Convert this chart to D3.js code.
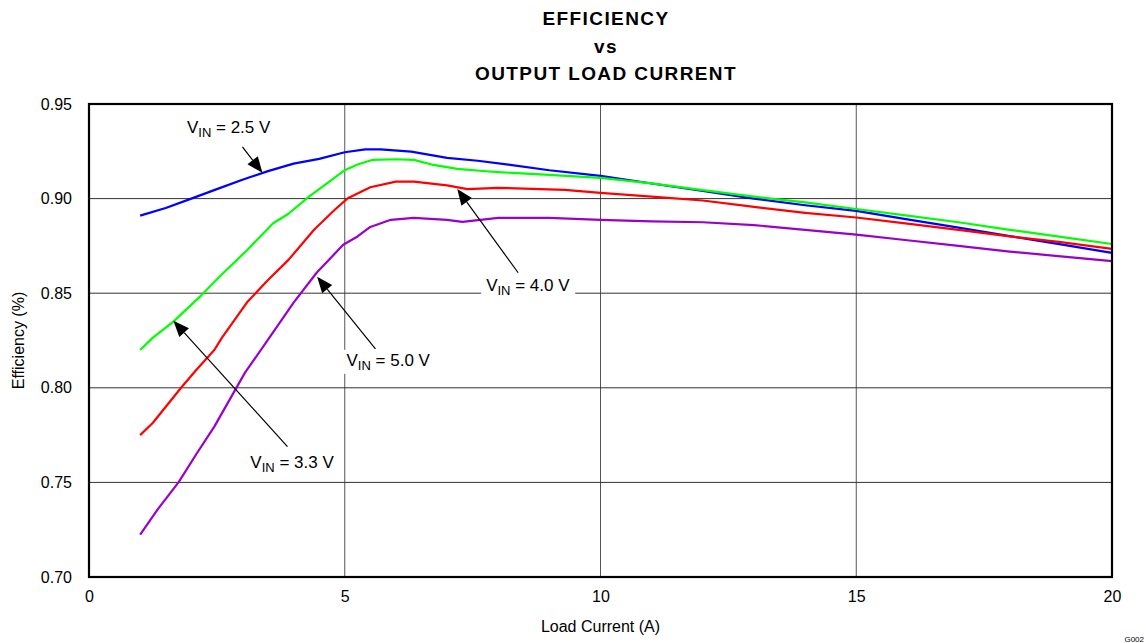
<!DOCTYPE html>
<html>
<head>
<meta charset="utf-8">
<script src="https://cdn.jsdelivr.net/npm/d3@7"></script>
<style>
  body { margin: 0; background: #fff; }
  text { font-family: "Liberation Sans", Arial, sans-serif; fill: #000; }
</style>
</head>
<body>
<div id="chart"></div>
<script>
// values
const xTicks = [0, 5, 10, 15, 20];
const yTicks = [0.70, 0.75, 0.80, 0.85, 0.90, 0.95];

const vin25x = [1, 1.5, 2, 2.5, 3, 3.5, 4, 4.5, 5, 5.4, 5.7, 6.3, 7, 7.6, 8.2, 9, 10, 11, 12, 13, 14, 15, 16, 17, 18, 19, 20];
const vin25y = [0.891, 0.895, 0.900, 0.905, 0.910, 0.9145, 0.9185, 0.921, 0.9245, 0.926, 0.926, 0.9248, 0.9215, 0.920, 0.918, 0.915, 0.912, 0.908, 0.904, 0.900, 0.8965, 0.8935, 0.889, 0.8847, 0.8802, 0.8758, 0.8713];

const vin33x = [1, 1.25, 1.65, 2.2, 2.6, 3.1, 3.6, 3.9, 4.3, 4.6, 5, 5.25, 5.55, 6, 6.35, 6.7, 7.2, 7.7, 8, 9, 10, 11, 12, 13, 14, 15, 16, 17, 18, 19, 20];
const vin33y = [0.820, 0.8265, 0.835, 0.849, 0.860, 0.873, 0.887, 0.892, 0.901, 0.907, 0.915, 0.918, 0.9205, 0.9208, 0.9205, 0.918, 0.9157, 0.9146, 0.914, 0.9125, 0.911, 0.908, 0.9045, 0.901, 0.898, 0.8945, 0.891, 0.8875, 0.8835, 0.8798, 0.876];

const vin40x = [1, 1.25, 1.8, 2.1, 2.45, 2.6, 3.1, 3.5, 3.9, 4.4, 4.8, 5.05, 5.5, 6, 6.35, 7, 7.4, 8, 9.3, 10, 11, 12, 13, 14, 15, 16, 17, 18, 19, 20];
const vin40y = [0.775, 0.7815, 0.800, 0.8095, 0.820, 0.8265, 0.8455, 0.857, 0.8676, 0.8835, 0.894, 0.900, 0.906, 0.909, 0.909, 0.907, 0.905, 0.9057, 0.9046, 0.903, 0.901, 0.899, 0.8956, 0.8925, 0.890, 0.8868, 0.8835, 0.880, 0.877, 0.8734];

const vin50x = [1, 1.35, 1.75, 2.1, 2.45, 3.05, 3.5, 4.0, 4.45, 4.97, 5.25, 5.5, 5.9, 6.35, 7, 7.3, 8, 9, 10, 11, 12, 13, 14, 15, 16, 17, 18, 19, 20];
const vin50y = [0.7224, 0.736, 0.750, 0.765, 0.7795, 0.808, 0.8254, 0.845, 0.8608, 0.8756, 0.880, 0.885, 0.8888, 0.8898, 0.8888, 0.8877, 0.8898, 0.8898, 0.8888, 0.888, 0.8875, 0.886, 0.8835, 0.881, 0.878, 0.875, 0.872, 0.8695, 0.867];

const seriesNames = ["2.5 V", "3.3 V", "4.0 V", "5.0 V"];
const seriesColours = ["#0000ff", "#00ff00", "#ff0000", "#9900cc"];

const width = 1146;
const height = 643;
const margin = { top: 104, right: 34, bottom: 66, left: 89 };

const svg = d3.select("#chart").append("svg")
    .attr("width", width)
    .attr("height", height);

const x = d3.scaleLinear().domain([0, 20]).range([margin.left, width - margin.right]);
const y = d3.scaleLinear().domain([0.70, 0.95]).range([height - margin.bottom, margin.top]);

// grid
svg.append("g")
    .selectAll("line.vgrid")
    .data(xTicks.slice(1, -1))
    .join("line")
    .attr("x1", d => x(d)).attr("x2", d => x(d))
    .attr("y1", y(0.70)).attr("y2", y(0.95))
    .attr("stroke", "#555").attr("stroke-width", 1);

svg.append("g")
    .selectAll("line.hgrid")
    .data(yTicks.slice(1, -1))
    .join("line")
    .attr("x1", x(0)).attr("x2", x(20))
    .attr("y1", d => y(d)).attr("y2", d => y(d))
    .attr("stroke", "#333").attr("stroke-width", 1);

// axes - tick labels only, frame drawn separately
const xAxis = svg.append("g")
    .attr("transform", `translate(0,${y(0.70)})`)
    .call(d3.axisBottom(x).tickValues(xTicks).tickSize(0).tickPadding(14).tickFormat(d3.format("d")));
const yAxis = svg.append("g")
    .attr("transform", `translate(${x(0)},0)`)
    .call(d3.axisLeft(y).tickValues(yTicks).tickSize(0).tickPadding(17).tickFormat(d3.format(".2f")));
[xAxis, yAxis].forEach(a => {
    a.select(".domain").remove();
    a.selectAll("text").style("font-size", "16px").style("font-family", '"Liberation Sans", Arial, sans-serif');
});

// curves
const allX = [vin25x, vin33x, vin40x, vin50x];
const allY = [vin25y, vin33y, vin40y, vin50y];
const line = d3.line().x(d => x(d[0])).y(d => y(d[1]));

allX.forEach(function (xs, i) {
    const pts = xs.map((v, j) => [v, allY[i][j]]);
    svg.append("path")
        .datum(pts)
        .attr("fill", "none")
        .attr("stroke", seriesColours[i])
        .attr("stroke-width", 2.2)
        .attr("stroke-linejoin", "round")
        .attr("d", line);
});

// frame
svg.append("rect")
    .attr("x", x(0)).attr("y", y(0.95))
    .attr("width", x(20) - x(0)).attr("height", y(0.70) - y(0.95))
    .attr("fill", "none").attr("stroke", "#000").attr("stroke-width", 2.2);

// annotations: label centre and arrow (tail -> head), in data units
const notes = [
    { name: "2.5 V", lx: 2.73, ly: 0.9379, tail: [3.0, 0.9273], head: [3.39, 0.9136] },
    { name: "4.0 V", lx: 8.58, ly: 0.8544, tail: [8.39, 0.8608], head: [7.2, 0.9051] },
    { name: "5.0 V", lx: 5.85, ly: 0.8148, tail: [5.6, 0.8206], head: [4.46, 0.8587] },
    { name: "3.3 V", lx: 3.97, ly: 0.7610, tail: [3.88, 0.7689], head: [1.65, 0.8354] }
];

notes.forEach(function (n) {
    const tx = x(n.tail[0]), ty = y(n.tail[1]);
    const hx = x(n.head[0]), hy = y(n.head[1]);
    const ang = Math.atan2(hy - ty, hx - tx);
    const len = 16, half = 6.5;
    const bx = hx - len * Math.cos(ang), by = hy - len * Math.sin(ang);
    svg.append("line")
        .attr("x1", tx).attr("y1", ty).attr("x2", bx).attr("y2", by)
        .attr("stroke", "#000").attr("stroke-width", 1.2);
    svg.append("path")
        .attr("d", `M${hx},${hy}L${bx - half * Math.sin(ang)},${by + half * Math.cos(ang)}L${bx + half * Math.sin(ang)},${by - half * Math.cos(ang)}Z`)
        .attr("fill", "#000");

    const g = svg.append("g");
    const bg = g.append("rect").attr("fill", "#fff");
    const t = g.append("text")
        .attr("x", x(n.lx)).attr("y", y(n.ly) + 6)
        .attr("text-anchor", "middle")
        .style("font-size", "17px");
    t.append("tspan").text("V");
    t.append("tspan").attr("dy", 4).style("font-size", "13px").text("IN");
    t.append("tspan").attr("dy", -4).text(" = " + n.name);
    const bb = t.node().getBBox();
    bg.attr("x", bb.x - 5).attr("y", bb.y - 1).attr("width", bb.width + 10).attr("height", bb.height + 2);
});

// title
const titleLines = ["EFFICIENCY", "vs", "OUTPUT LOAD CURRENT"];
svg.append("g").selectAll("text")
    .data(titleLines)
    .join("text")
    .attr("x", 606).attr("y", (d, i) => 25 + i * 27.5)
    .attr("text-anchor", "middle")
    .style("font-size", "19px").style("font-weight", "bold")
    .style("letter-spacing", "1.4px")
    .text(d => d);

// axis titles
svg.append("text")
    .attr("x", x(10)).attr("y", 632)
    .attr("text-anchor", "middle")
    .style("font-size", "16px")
    .text("Load Current (A)");

svg.append("text")
    .attr("transform", `translate(24,${(y(0.70) + y(0.95)) / 2}) rotate(-90)`)
    .attr("text-anchor", "middle")
    .style("font-size", "16px")
    .text("Efficiency (%)");

svg.append("text")
    .attr("x", 1144).attr("y", 642)
    .attr("text-anchor", "end")
    .style("font-size", "8px")
    .text("G002");
</script>
</body>
</html>
